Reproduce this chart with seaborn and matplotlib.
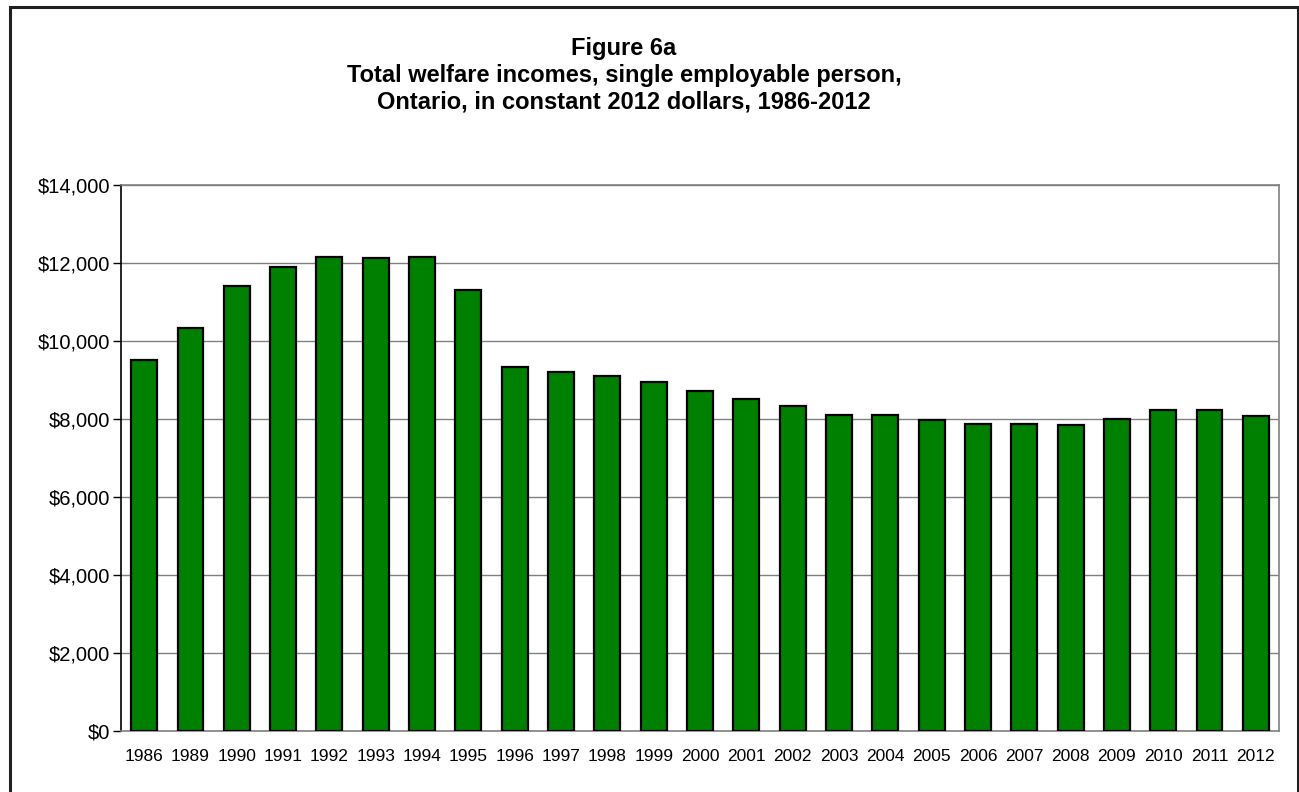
import matplotlib
matplotlib.use("Agg")
import matplotlib.pyplot as plt
from matplotlib.patches import Rectangle
from matplotlib.ticker import FuncFormatter, MultipleLocator
import seaborn as sns
import pandas as pd

# Total welfare income by year, constant 2012 dollars
years = ["1986", "1989", "1990", "1991", "1992", "1993", "1994", "1995", "1996",
         "1997", "1998", "1999", "2000", "2001", "2002", "2003", "2004", "2005",
         "2006", "2007", "2008", "2009", "2010", "2011", "2012"]
incomes = [9505, 10333, 11395, 11882, 12154, 12128, 12146, 11292, 9326,
           9197, 9103, 8941, 8718, 8505, 8326, 8103, 8103, 7974,
           7872, 7864, 7846, 7985, 8215, 8231, 8077]

title_lines = ["Figure 6a",
               "Total welfare incomes, single employable person,",
               "Ontario, in constant 2012 dollars, 1986-2012"]

sns.set_theme(style="white")
plt.rcParams["font.family"] = ["Liberation Sans", "DejaVu Sans"]

df = pd.DataFrame({"year": years, "income": incomes})

W, H = 1299, 792
fig = plt.figure(figsize=(W / 100, H / 100), dpi=100)
fig.patch.set_facecolor("white")

# outer frame around the whole chart (bottom edge runs off the canvas)
fig.patches.append(Rectangle((10 / W, -0.05), (1297.5 - 10) / W, 1 - 7 / H + 0.05,
                             transform=fig.transFigure, fill=False,
                             edgecolor="#202020", linewidth=2.2, zorder=0))

left, right, top, bottom = 121, 1279, 184.7, 730.7
ax = fig.add_axes([left / W, 1 - bottom / H, (right - left) / W, (bottom - top) / H])

sns.barplot(data=df, x="year", y="income", order=years, color="#008000",
            saturation=1, edgecolor="black", linewidth=1.6, width=0.56, ax=ax,
            zorder=3)

ax.set_xlim(-0.5, len(years) - 0.5)
ax.set_ylim(0, 14000)
ax.yaxis.set_major_locator(MultipleLocator(2000))
ax.yaxis.set_major_formatter(FuncFormatter(lambda v, p: f"${v:,.0f}"))
ax.set_xlabel("")
ax.set_ylabel("")

ax.grid(axis="y", color="#808080", linewidth=1.0, zorder=0)
ax.grid(axis="x", visible=False)
ax.set_axisbelow(True)

for side in ["top", "right", "bottom"]:
    ax.spines[side].set_color("#808080")
    ax.spines[side].set_linewidth(1.2)
ax.spines["left"].set_color("black")
ax.spines["left"].set_linewidth(1.2)

ax.tick_params(axis="y", which="major", left=True, length=6, width=1.0,
               color="black", labelsize=14.5, pad=2, labelcolor="black")
ax.tick_params(axis="x", bottom=False, labelsize=12.5, pad=7, labelcolor="black")

fig.text(624 / W, 1 - 75.5 / H, "\n".join(title_lines), ha="center", va="center",
         fontsize=17, fontweight="bold", linespacing=1.2, color="black")

fig.savefig("out.png", dpi=100, facecolor="white")
